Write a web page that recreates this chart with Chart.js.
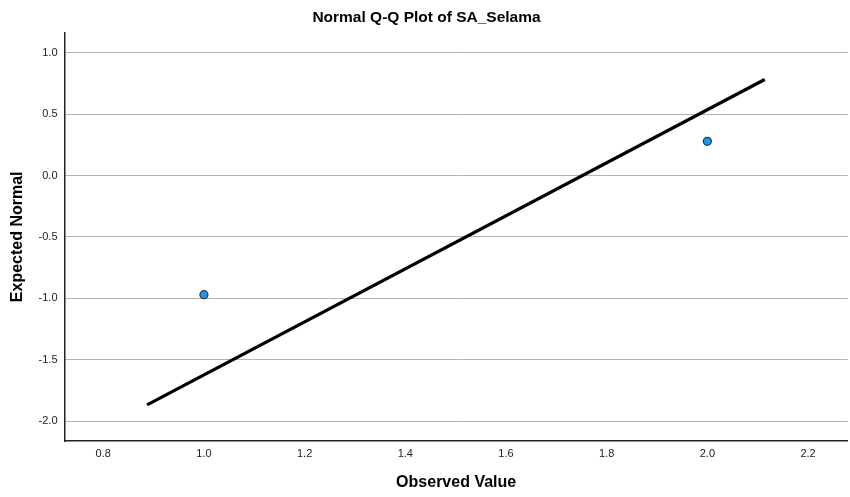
<!DOCTYPE html>
<html>
<head>
<meta charset="utf-8">
<script src="https://cdn.jsdelivr.net/npm/chart.js@4/dist/chart.umd.min.js"></script>
<style>
  html, body { margin: 0; padding: 0; background: #fff; overflow: hidden; }
  /* a bit wider than the window: the scale keeps ~5px free on the right */
  #wrap { width: 853px; height: 497px; position: relative; }
</style>
</head>
<body>
<div id="wrap"><canvas id="qq"></canvas></div>
<script>
// observed points
const observed = [1.0, 2.0];
const expected = [-0.97, 0.28];
// reference line endpoints
const lineX = [0.887, 2.114];
const lineY = [-1.868, 0.784];
// tick labels
const xTicks = [0.8, 1.0, 1.2, 1.4, 1.6, 1.8, 2.0, 2.2];
const yTicks = [-2.0, -1.5, -1.0, -0.5, 0.0, 0.5, 1.0];

const font = 'Liberation Sans, Arial, sans-serif';
Chart.defaults.font.family = font;
Chart.defaults.color = '#222';

new Chart(document.getElementById('qq'), {
  type: 'scatter',
  data: {
    datasets: [
      {
        label: 'Line',
        data: lineX.map((x, i) => ({ x: x, y: lineY[i] })),
        showLine: true,
        borderColor: '#000',
        borderWidth: 3.2,
        pointRadius: 0,
        order: 2
      },
      {
        label: 'Observed',
        data: observed.map((x, i) => ({ x: x, y: expected[i] })),
        backgroundColor: '#1e95e6',
        borderColor: '#2a3440',
        borderWidth: 1.2,
        pointRadius: 4,
        order: 1
      }
    ]
  },
  options: {
    responsive: true,
    maintainAspectRatio: false,
    animation: false,
    layout: { padding: 0 },
    plugins: {
      legend: { display: false },
      tooltip: { enabled: false },
      title: {
        display: true,
        text: 'Normal Q-Q Plot of SA_Selama',
        color: '#000',
        font: { size: 15.5, weight: 'bold' },
        padding: { top: 8, bottom: 6 }
      }
    },
    scales: {
      x: {
        type: 'linear',
        min: 0.723,
        max: 2.279,
        afterBuildTicks: s => { s.ticks = xTicks.map(v => ({ value: v })); },
        afterFit: s => { s.height = 56; },
        grid: { display: false, drawTicks: false },
        border: { display: true, color: '#222', width: 1.5 },
        ticks: { padding: 6, font: { size: 11 }, color: '#222', callback: v => v.toFixed(1) },
        title: {
          display: true,
          text: 'Observed Value',
          color: '#000',
          font: { size: 16, weight: 'bold' },
          padding: { top: 0, bottom: 5 }
        }
      },
      y: {
        type: 'linear',
        min: -2.163,
        max: 1.166,
        afterBuildTicks: s => { s.ticks = yTicks.map(v => ({ value: v })); },
        afterFit: s => { s.width = 64.5; },
        grid: { color: '#b3b3b3', lineWidth: 1, drawTicks: false },
        border: { display: true, color: '#222', width: 1.5 },
        ticks: { padding: 7, font: { size: 11 }, color: '#222', callback: v => v.toFixed(1) },
        title: {
          display: true,
          text: 'Expected Normal',
          color: '#000',
          font: { size: 16, weight: 'bold' },
          padding: { top: 8, bottom: 0 }
        }
      }
    }
  }
});
</script>
</body>
</html>
